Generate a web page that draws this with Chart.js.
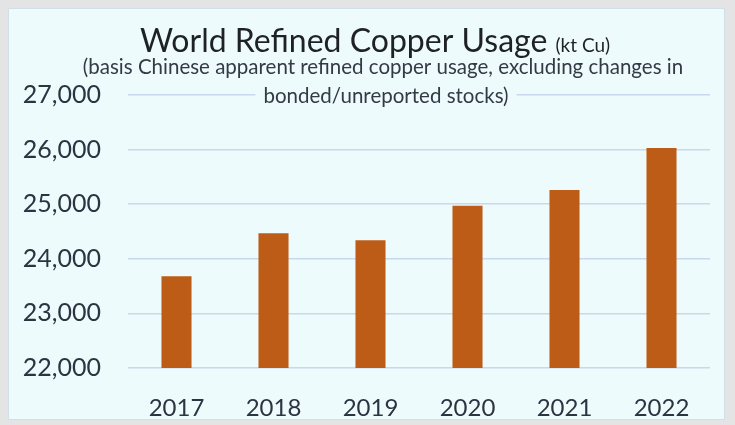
<!DOCTYPE html>
<html>
<head>
<meta charset="utf-8">
<script src="https://cdn.jsdelivr.net/npm/chart.js@4/dist/chart.umd.min.js"></script>
<style>
    html, body { margin: 0; padding: 0; background: #e4e4e4; }
    #chart-wrap { width: 735px; height: 425px; }
</style>
</head>
<body>
<div id="chart-wrap"><canvas id="copper-usage-chart"></canvas></div>
<script>
var year_labels = ['2017', '2018', '2019', '2020', '2021', '2022'];
var usage_values = [23680, 24470, 24340, 24970, 25260, 26030];
var axis_min = 22000;
var axis_max = 27000;
var axis_step = 1000;

var title_text = 'World Refined Copper Usage ';
var title_unit = '(kt Cu)';
var subtitle_lines = [
    '(basis Chinese apparent refined copper usage, excluding changes in',
    'bonded/unreported stocks)'
];

var FONT = 'Lato, "Liberation Sans", sans-serif';

// panel background + title box drawn on the canvas
var panelPlugin = {
    id: 'panel',
    beforeDraw: function (chart) {
        var ctx = chart.ctx;
        ctx.save();
        ctx.fillStyle = '#e4e4e4';
        ctx.fillRect(0, 0, chart.width, chart.height);
        ctx.fillStyle = '#eefbfc';
        ctx.fillRect(8, 8, 717, 412);
        ctx.strokeStyle = '#cfe0e8';
        ctx.lineWidth = 1;
        ctx.strokeRect(8.5, 8.5, 716, 411);
        ctx.restore();
    },
    afterDraw: function (chart) {
        var ctx = chart.ctx;
        ctx.save();
        ctx.textBaseline = 'alphabetic';
        ctx.textAlign = 'left';

        // main title with smaller unit
        ctx.font = '32px ' + FONT;
        var w1 = ctx.measureText(title_text).width;
        ctx.font = '19px ' + FONT;
        var w2 = ctx.measureText(title_unit).width;
        var x0 = 375 - (w1 + w2) / 2;
        ctx.fillStyle = '#1e2228';
        ctx.font = '32px ' + FONT;
        ctx.fillText(title_text, x0, 52);
        ctx.font = '19px ' + FONT;
        ctx.fillText(title_unit, x0 + w1, 52);

        // subtitle, second line sits over the top gridline
        ctx.font = '20.5px ' + FONT;
        ctx.textAlign = 'center';
        var lw = ctx.measureText(subtitle_lines[1]).width;
        ctx.fillStyle = '#eefbfc';
        ctx.fillRect(386 - lw / 2 - 8, 84, lw + 16, 22);
        ctx.fillStyle = '#333a45';
        ctx.fillText(subtitle_lines[0], 383, 74);
        ctx.fillText(subtitle_lines[1], 386, 103);
        ctx.restore();
    }
};

function LoadCopperUsageChart() {
    var ctx = document.getElementById('copper-usage-chart');
    new Chart(ctx, {
        type: 'bar',
        data: {
            labels: year_labels,
            datasets: [{
                label: 'World Refined Copper Usage',
                data: usage_values,
                backgroundColor: '#bd5c17',
                borderWidth: 0,
                barPercentage: 0.31,
                categoryPercentage: 1.0
            }]
        },
        plugins: [panelPlugin],
        options: {
            responsive: true,
            maintainAspectRatio: false,
            animation: false,
            layout: {
                padding: { left: 20, right: 25, top: 95, bottom: 0 }
            },
            plugins: {
                legend: { display: false },
                tooltip: { enabled: false }
            },
            scales: {
                x: {
                    afterFit: function (scale) {
                        scale.height = 57;
                    },
                    grid: { display: false, drawTicks: false },
                    border: { display: false },
                    ticks: {
                        color: '#2b3441',
                        padding: 26,
                        maxRotation: 0,
                        font: { family: FONT, size: 24 }
                    }
                },
                y: {
                    min: axis_min,
                    max: axis_max,
                    afterFit: function (scale) {
                        scale.width = 108;
                    },
                    grid: {
                        color: '#c8d8ee',
                        lineWidth: 1.5,
                        drawTicks: false
                    },
                    border: { display: false },
                    ticks: {
                        stepSize: axis_step,
                        color: '#2b3441',
                        padding: 27,
                        font: { family: FONT, size: 25 },
                        callback: function (value) {
                            return value.toLocaleString('en-US');
                        }
                    }
                }
            }
        }
    });
}

LoadCopperUsageChart();
</script>
</body>
</html>
